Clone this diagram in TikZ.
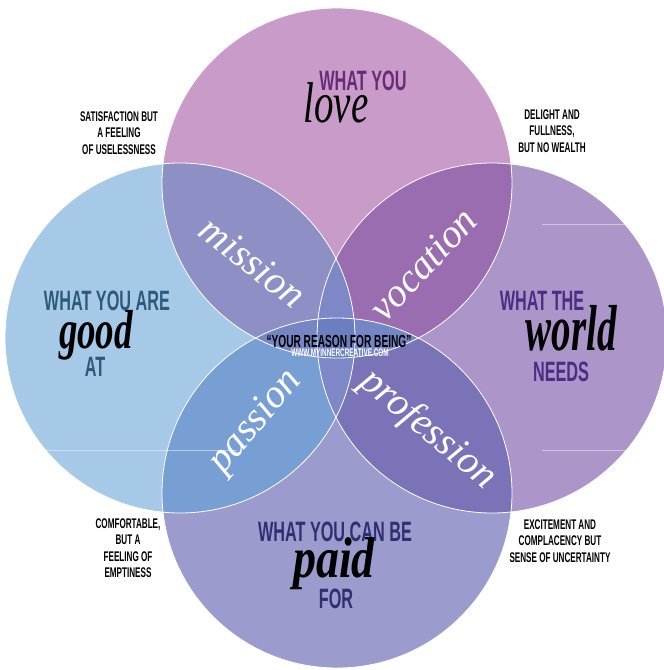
\documentclass[tikz,border=0pt]{standalone}
\usepackage{fontspec}
\newfontfamily\headfont[FakeStretch=0.58]{Liberation Sans}
\newfontfamily\brushfont{Liberation Serif}
\definecolor{topc}{HTML}{C99BC9}
\definecolor{leftc}{HTML}{A7C9E8}
\definecolor{rightc}{HTML}{AB95C9}
\definecolor{botc}{HTML}{9C9BCD}
\definecolor{tlc}{HTML}{8E90C5}
\definecolor{trc}{HTML}{9A6DB0}
\definecolor{blc}{HTML}{789FD4}
\definecolor{brc}{HTML}{7B73B8}
\definecolor{lrc}{HTML}{7E88C6}
\definecolor{tbc}{HTML}{7486C4}
\definecolor{cenc}{HTML}{6A7EC0}
\definecolor{lovetxt}{HTML}{6A2A78}
\definecolor{goodtxt}{HTML}{2D5A7B}
\definecolor{worldtxt}{HTML}{4B2E83}
\definecolor{paidtxt}{HTML}{2F2F72}
\tikzset{
  heading/.style={inner sep=0pt, font=\headfont\bfseries\fontsize{28}{28}\selectfont},
  note/.style={inner sep=0pt, align=center, text=black, font=\headfont\bfseries\fontsize{14}{16.5}\selectfont},
  brush/.style={inner sep=0pt, anchor=base, text=black, font=\brushfont\itshape\fontsize{50}{50}\selectfont},
  hbrush/.style={brush, font=\brushfont\bfseries\itshape\fontsize{50}{50}\selectfont},
  wbrush/.style={inner sep=0pt, text=white, font=\brushfont\itshape\fontsize{40}{40}\selectfont},
  ring/.style={draw=white, line width=0.8pt},
  faint/.style={draw=white, opacity=0.45, line width=0.5pt}
}
\begin{document}
\begin{tikzpicture}[x=1pt,y=-1pt]
\fill[white] (0,0) rectangle (664,670);
\useasboundingbox (0,0) rectangle (664,670);
\clip (0,0) rectangle (664,670);
\coordinate (cT) at (337,183);
\coordinate (cL) at (180,338);
\coordinate (cR) at (492,338);
\coordinate (cB) at (337,493);
% base circles
\fill[topc] (cT) circle[radius=175pt];
\fill[leftc] (cL) circle[radius=175pt];
\fill[rightc] (cR) circle[radius=175pt];
\fill[botc] (cB) circle[radius=175pt];
% pairwise overlaps
\begin{scope}\clip (cT) circle[radius=175pt]; \fill[tlc] (cL) circle[radius=175pt];\end{scope}
\begin{scope}\clip (cT) circle[radius=175pt]; \fill[trc] (cR) circle[radius=175pt];\end{scope}
\begin{scope}\clip (cB) circle[radius=175pt]; \fill[blc] (cL) circle[radius=175pt];\end{scope}
\begin{scope}\clip (cB) circle[radius=175pt]; \fill[brc] (cR) circle[radius=175pt];\end{scope}
\begin{scope}\clip (cL) circle[radius=175pt]; \fill[lrc] (cR) circle[radius=175pt];\end{scope}
\begin{scope}\clip (cT) circle[radius=175pt]; \fill[tbc] (cB) circle[radius=175pt];\end{scope}
\begin{scope}\clip (cT) circle[radius=175pt]; \clip (cB) circle[radius=175pt]; \clip (cL) circle[radius=175pt]; \fill[cenc] (cR) circle[radius=175pt];\end{scope}
% faint rules
\coordinate (fa1) at (42,450); \coordinate (fa2) at (237,450);
\coordinate (fb1) at (542,224); \coordinate (fb2) at (664,224);
\coordinate (fc1) at (542,450); \coordinate (fc2) at (664,450);
\draw[faint] (fa1) -- (fa2);
\draw[faint] (fb1) -- (fb2);
\draw[faint] (fc1) -- (fc2);
% white rings
\draw[ring] (cT) circle[radius=175pt];
\draw[ring] (cL) circle[radius=175pt];
\draw[ring] (cR) circle[radius=175pt];
\draw[ring] (cB) circle[radius=175pt];
% headings
\node[heading, text=lovetxt] (hlove) at (363,81) {WHAT YOU};
\node[heading, text=goodtxt] (hgood) at (107,301) {WHAT YOU ARE};
\node[heading, text=goodtxt] (hat) at (95,367) {AT};
\node[heading, text=worldtxt] (hworld) at (542,301) {WHAT THE};
\node[heading, text=worldtxt] (hneeds) at (561,372) {NEEDS};
\node[heading, text=paidtxt] (hpaid) at (335,532) {WHAT YOU CAN BE};
\node[heading, text=paidtxt] (hfor) at (336,599) {FOR};
% black brush words
\node[brush] (wlove) at (336,122) {\scalebox{0.78}[1.15]{love}};
\node[hbrush] (wgood) at (96,348) {\scalebox{0.74}[1.1]{good}};
\node[hbrush] (wworld) at (571,350) {\scalebox{0.78}[1.3]{world}};
\node[hbrush] (wpaid) at (334,577) {\scalebox{0.92}[1.15]{paid}};
% white brush words
\node[wbrush, rotate=-38] (wmission) at (253,262) {mission};
\node[wbrush, rotate=47] (wvocation) at (423,264) {vocation};
\node[wbrush, rotate=50] (wpassion) at (256,422) {passion};
\node[wbrush, rotate=-40] (wprofession) at (428,430) {profession};
% notes
\node[note] (ntl) at (119,133) {SATISFACTION BUT\\A FEELING\\OF USELESSNESS};
\node[note] (ntr) at (552,131) {DELIGHT AND\\FULLNESS,\\BUT NO WEALTH};
\node[note] (nbl) at (128,548) {COMFORTABLE,\\BUT A\\FEELING OF\\EMPTINESS};
\node[note] (nbr) at (560,541) {EXCITEMENT AND\\COMPLACENCY BUT\\SENSE OF UNCERTAINTY};
% centre
\node[inner sep=0pt, text=black, font=\headfont\bfseries\fontsize{17.5}{17.5}\selectfont] (reason) at (339,341) {“YOUR REASON FOR BEING”};
\node[inner sep=0pt, text=white, font=\headfont\bfseries\fontsize{11}{11}\selectfont] (site) at (340,353) {WWW.MYINNERCREATIVE.COM};
\end{tikzpicture}
\end{document}
